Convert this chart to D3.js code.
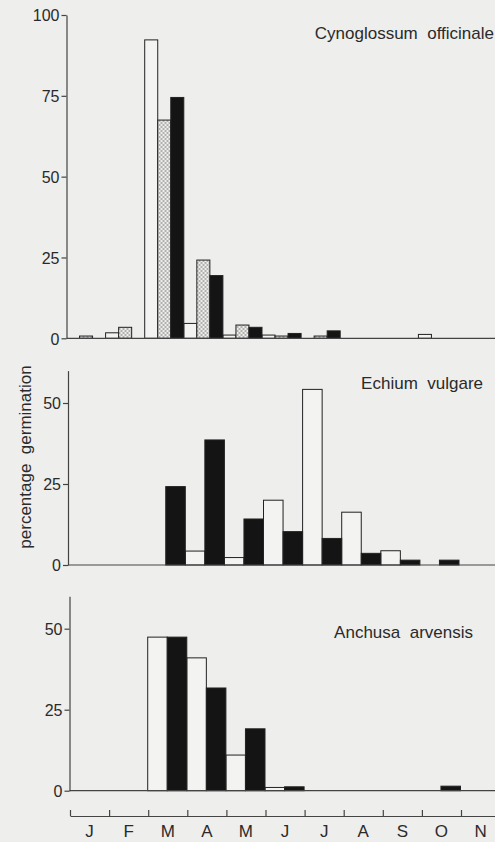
<!DOCTYPE html>
<html>
<head>
<meta charset="utf-8">
<script src="https://cdn.jsdelivr.net/npm/d3@7"></script>
<style>
  html, body { margin: 0; padding: 0; background: #eeeeec; }
  svg { display: block; font-family: "Liberation Sans", Arial, sans-serif; }
  text { fill: #2a2a2a; }
</style>
</head>
<body>
<div id="chart"></div>
<script>
var months = ['J', 'F', 'M', 'A', 'M', 'J', 'J', 'A', 'S', 'O', 'N']

// Cynoglossum officinale: open, stippled, solid
var cynoWhite = [0, 1.7, 92.3, 4.6, 1, 1, 0, 0, 0, 1.2, 0]
var cynoDots  = [0.7, 3.4, 67.5, 24.2, 4.1, 0.7, 0.7, 0, 0, 0, 0]
var cynoBlack = [0, 0, 74.5, 19.4, 3.4, 1.5, 2.3, 0, 0, 0, 0]

// Echium vulgare: open, solid
var echiWhite = [0, 0, 0, 4.3, 2.3, 20, 54.2, 16.3, 4.4, 0, 0]
var echiBlack = [0, 0, 24.2, 38.6, 14.2, 10.3, 8.2, 3.6, 1.5, 1.5, 0]

// Anchusa arvensis: open, solid
var anchWhite = [0, 0, 47.4, 41, 11, 1, 0, 0, 0, 0, 0]
var anchBlack = [0, 0, 47.4, 31.7, 19.1, 1.2, 0, 0, 0, 1.4, 0]

var W = 495, H = 842
var monthW = 39.1

var svg = d3.select('#chart').append('svg')
  .attr('width', W).attr('height', H)

svg.append('rect').attr('width', W).attr('height', H).attr('fill', '#eeeeec')

var defs = svg.append('defs')
var pat = defs.append('pattern')
  .attr('id', 'dots').attr('patternUnits', 'userSpaceOnUse')
  .attr('width', 4).attr('height', 4)
pat.append('rect').attr('width', 4).attr('height', 4).attr('fill', '#ededeb')
pat.append('circle').attr('cx', 1).attr('cy', 1).attr('r', 0.75).attr('fill', '#555')
pat.append('circle').attr('cx', 3).attr('cy', 3).attr('r', 0.75).attr('fill', '#555')

var idx = d3.range(months.length)

var panels = [
  {name: 'Cynoglossum  officinale', x0: 66.5, y0: 338.3, top: 15, max: 100, ticks: [0, 25, 50, 75, 100],
   series: [{v: cynoWhite, fill: '#f3f3f1'}, {v: cynoDots, fill: 'url(#dots)'}, {v: cynoBlack, fill: '#141414'}],
   titleX: 494, titleY: 39},
  {name: 'Echium  vulgare', x0: 68, y0: 565, top: 370.6, max: 60, ticks: [0, 25, 50],
   series: [{v: echiWhite, fill: '#f3f3f1'}, {v: echiBlack, fill: '#141414'}],
   titleX: 483, titleY: 389},
  {name: 'Anchusa  arvensis', x0: 69.5, y0: 790.7, top: 596.3, max: 60, ticks: [0, 25, 50],
   series: [{v: anchWhite, fill: '#f3f3f1'}, {v: anchBlack, fill: '#141414'}],
   titleX: 473, titleY: 638}
]

panels.forEach(function(p){
  var g = svg.append('g').attr('transform', 'translate(' + p.x0 + ',0)')

  var x = d3.scaleBand().domain(idx).range([0, monthW * months.length])
  var y = d3.scaleLinear().domain([0, p.max]).range([p.y0, p.top])
  var sub = d3.scaleBand().domain(d3.range(p.series.length)).range([0, x.bandwidth()])

  p.series.forEach(function(s, si){
    g.append('g').selectAll('rect')
      .data(idx.filter(function(i){ return s.v[i] > 0 }))
      .join('rect')
      .attr('x', function(i){ return x(i) + sub(si) })
      .attr('width', sub.bandwidth())
      .attr('y', function(i){ return y(s.v[i]) })
      .attr('height', function(i){ return y(0) - y(s.v[i]) })
      .attr('fill', s.fill)
      .attr('stroke', '#222')
      .attr('stroke-width', 1)
  })

  // baseline
  g.append('line')
    .attr('x1', 0).attr('x2', W - p.x0)
    .attr('y1', y(0)).attr('y2', y(0))
    .attr('stroke', '#444').attr('stroke-width', 1.2)

  var ax = g.append('g')
    .call(d3.axisLeft(y).tickValues(p.ticks).tickSize(5).tickSizeOuter(0).tickPadding(2))
  ax.select('.domain').attr('stroke', '#444').attr('stroke-width', 1.2)
  ax.selectAll('.tick line').attr('stroke', '#444').attr('stroke-width', 1.2)
  ax.selectAll('.tick text').attr('font-size', 16).attr('fill', '#2a2a2a')
    .attr('dy', '0.36em')

  svg.append('text')
    .attr('x', p.titleX).attr('y', p.titleY)
    .attr('text-anchor', 'end')
    .attr('font-size', 17)
    .style('white-space', 'pre')
    .text(p.name)
})

// y-axis title
svg.append('text')
  .attr('transform', 'translate(31,457) rotate(-90)')
  .attr('text-anchor', 'middle')
  .attr('font-size', 17)
  .style('white-space', 'pre')
  .text('percentage  germination')

// month axis
var mx = d3.scaleLinear().domain([0, months.length]).range([70, 70 + monthW * months.length])
var mAxis = svg.append('g').attr('transform', 'translate(0,816)')
  .call(d3.axisBottom(mx).tickValues(d3.range(0, months.length)).tickSize(-6).tickSizeOuter(0).tickFormat(''))
mAxis.select('.domain').attr('stroke', '#444').attr('stroke-width', 1.2)
mAxis.selectAll('.tick line').attr('stroke', '#444').attr('stroke-width', 1.2)

var mb = d3.scaleBand().domain(idx).range([mx(0), mx(months.length)])
svg.append('g').attr('transform', 'translate(0,816)')
  .call(d3.axisBottom(mb).tickFormat(function(i){ return months[i] }).tickSize(0).tickPadding(9))
  .call(function(a){ a.select('.domain').remove() })
  .selectAll('text').attr('font-size', 17).attr('fill', '#2a2a2a')
</script>
</body>
</html>
